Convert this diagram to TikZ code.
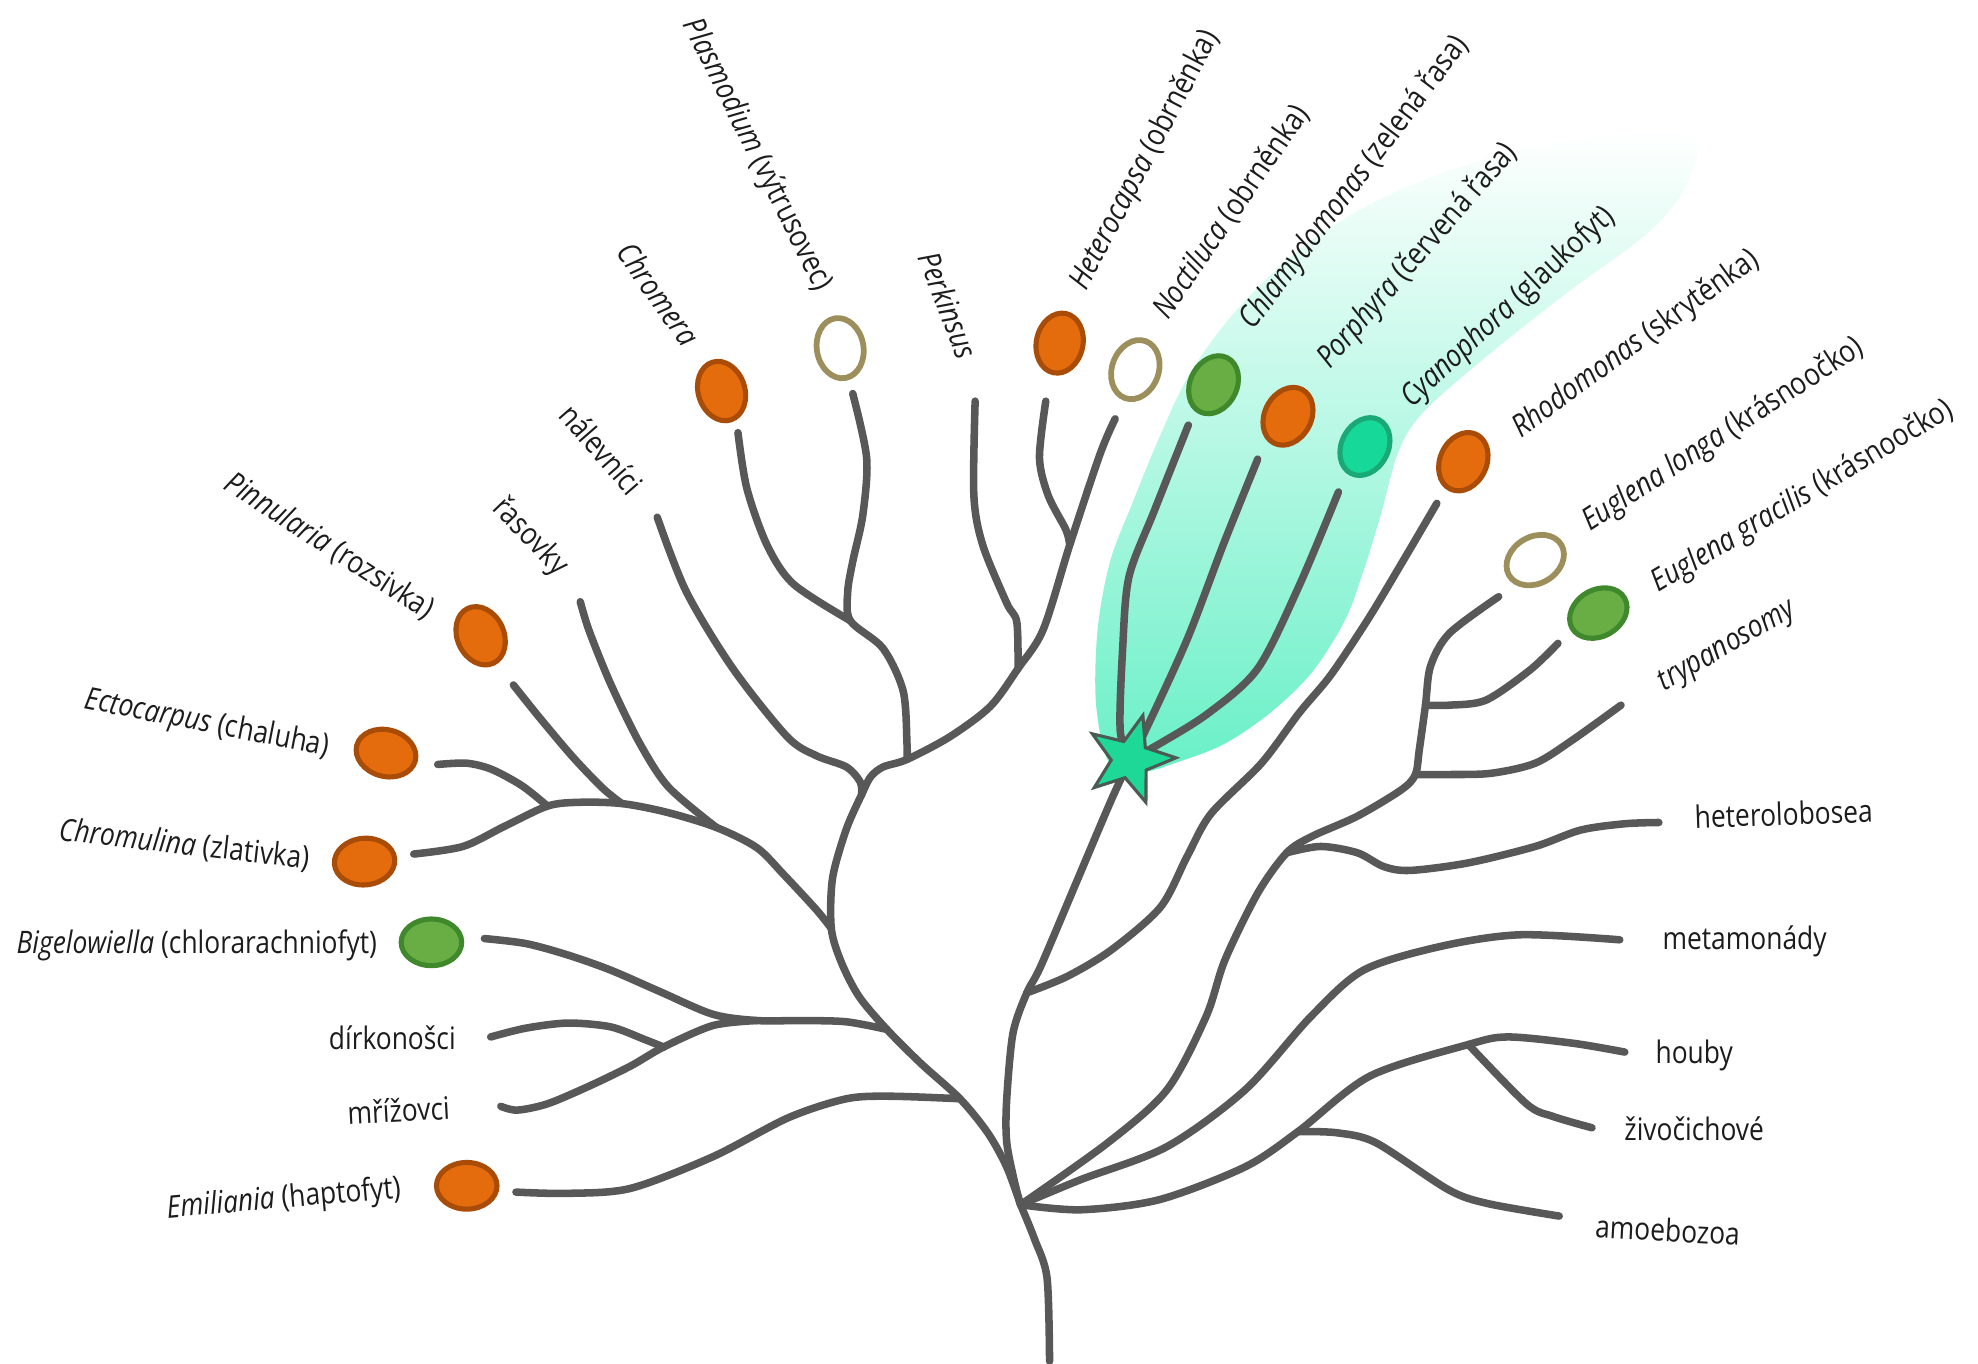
\documentclass[tikz,border=0pt]{standalone}
\usepackage{fontspec}
\setmainfont{Open Sans}[FakeStretch=0.85]
\usetikzlibrary{shapes.geometric}

\definecolor{branchgray}{RGB}{88,88,88}
\definecolor{orangefill}{RGB}{229,108,12}
\definecolor{orangeedge}{RGB}{168,76,8}
\definecolor{greenfill}{RGB}{104,174,68}
\definecolor{greenedge}{RGB}{64,136,44}
\definecolor{tealfill}{RGB}{22,216,152}
\definecolor{tealedge}{RGB}{26,168,118}
\definecolor{khaki}{RGB}{156,143,92}
\definecolor{starfill}{RGB}{30,216,152}
\definecolor{staredge}{RGB}{76,90,84}
\definecolor{glowbottom}{RGB}{104,240,198}
\definecolor{labelink}{RGB}{28,28,28}

\tikzset{
	branch/.style={draw=branchgray, line width=3.4pt, line cap=round, line join=round},
	cell/.style={ellipse, inner sep=0pt, minimum width=0.96cm, minimum height=0.74cm, line width=2.3pt},
	orangecell/.style={cell, draw=orangeedge, fill=orangefill},
	greencell/.style={cell, draw=greenedge, fill=greenfill},
	tealcell/.style={cell, draw=tealedge, fill=tealfill},
	emptycell/.style={cell, draw=khaki, fill=white, line width=2.6pt},
	lbl/.style={inner sep=0pt, text=labelink, font=\fontsize{14}{16}\selectfont}
}

\begin{document}
\begin{tikzpicture}[x=0.02cm, y=-0.02cm]
	\useasboundingbox (0,0) rectangle (1568,1081);
	% plastid glow
	\shade[top color=white, bottom color=glowbottom] plot[smooth cycle, tension=0.55] coordinates {(880,606) (869,560) (870,500) (880,445) (898,398) (918,349) (941,300) (970,258) (1003,222) (1040,190) (1090,160) (1150,135) (1220,115) (1300,105) (1345,110) (1335,150) (1306,185) (1245,230) (1184,278) (1130,325) (1109,357) (1094,410) (1080,455) (1066,492) (1040,533) (1007,565) (970,590) (931,605) (905,612)};
	% junctions
	\coordinate (base) at (832,1079);
	\coordinate (root) at (809,955);
	\coordinate (jEmi) at (761,871);
	\coordinate (jBig) at (703,816);
	\coordinate (jRiz) at (600,809);
	\coordinate (jDir) at (526,830);
	\coordinate (jChr) at (659,736);
	\coordinate (jRas) at (568,656);
	\coordinate (jPin) at (493,637);
	\coordinate (jEct) at (434,639);
	\coordinate (jTop) at (683,630);
	\coordinate (jPla) at (719,602);
	\coordinate (jCmr) at (674,492);
	\coordinate (jPer) at (807,530);
	\coordinate (jHet) at (848,432);
	\coordinate (jRho) at (814,787);
	\coordinate (jHlb) at (1020,676);
	\coordinate (jTry) at (1122,614);
	\coordinate (jEug) at (1130,559);
	\coordinate (jAmo) at (1029,897);
	\coordinate (jZiv) at (1164,828);
	% branch tips
	\coordinate (pinT) at (407,543);
	\coordinate (ectT) at (347,606);
	\coordinate (chrT) at (328,677);
	\coordinate (bigT) at (384,744);
	\coordinate (dirT) at (389,822);
	\coordinate (mriT) at (397,877);
	\coordinate (emiT) at (409,945);
	\coordinate (rasT) at (460,477);
	\coordinate (nalT) at (521,410);
	\coordinate (cmrT) at (585,343);
	\coordinate (plaT) at (676,312);
	\coordinate (perT) at (773,318);
	\coordinate (hetT) at (829,318);
	\coordinate (nocT) at (884,332);
	\coordinate (chlT) at (942,337);
	\coordinate (porT) at (997,364);
	\coordinate (cyaT) at (1061,390);
	\coordinate (rhoT) at (1139,399);
	\coordinate (eulT) at (1188,473);
	\coordinate (eugT) at (1235,510);
	\coordinate (tryT) at (1285,559);
	\coordinate (hlbT) at (1315,652);
	\coordinate (metT) at (1284,745);
	\coordinate (houT) at (1288,834);
	\coordinate (zivT) at (1262,894);
	\coordinate (amoT) at (1236,964);
	\coordinate (starC) at (896,602);
	% left half
	\draw[branch] plot[smooth, tension=0.5] coordinates {(base) (830,1013) (820,982) (root)};
	\draw[branch] plot[smooth, tension=0.5] coordinates {(root) (798,925) (783,898) (jEmi) (730,843) (jBig) (681,790) (667,763) (jChr) (660,696) (671,657) (jTop)};
	\draw[branch] plot[smooth, tension=0.5] coordinates {(jEmi) (706,869) (671,871) (625,886) (565,917) (500,942) (450,946) (emiT)};
	\draw[branch] plot[smooth, tension=0.5] coordinates {(jBig) (671,810) (636,809) (jRiz) (565,804) (523,786) (484,769) (450,757) (417,748) (bigT)};
	\draw[branch] plot[smooth, tension=0.5] coordinates {(jRiz) (565,813) (jDir) (500,845) (467,861) (434,875) (410,880) (mriT)};
	\draw[branch] plot[smooth, tension=0.5] coordinates {(jDir) (511,824) (484,814) (450,811) (417,815) (dirT)};
	\draw[branch] plot[smooth, tension=0.5] coordinates {(jChr) (647,721) (621,693) (600,672) (jRas) (529,644) (jPin) (459,636) (jEct) (400,655) (367,671) (chrT)};
	\draw[branch] plot[smooth, tension=0.5] coordinates {(jRas) (530,624) (507,589) (484,542) (467,500) (rasT)};
	\draw[branch] plot[smooth, tension=0.5] coordinates {(jPin) (478,625) (454,600) (427,568) (pinT)};
	\draw[branch] plot[smooth, tension=0.5] coordinates {(jEct) (414,623) (390,610) (370,605) (ectT)};
	\draw[branch] plot[smooth, tension=0.5] coordinates {(jTop) (682,620) (671,608) (647,599) (624,584) (581,530) (544,469) (nalT)};
	\draw[branch] plot[smooth, tension=0.5] coordinates {(jTop) (690,616) (700,608) (jPla) (753,584) (785,560) (jPer) (827,499) (jHet) (872,360) (nocT)};
	\draw[branch] plot[smooth, tension=0.5] coordinates {(jPla) (719,590) (716,548) (700,514) (jCmr) (672,469) (676,445) (684,408) (687,363) (plaT)};
	\draw[branch] plot[smooth, tension=0.5] coordinates {(jCmr) (629,463) (608,432) (592,387) (cmrT)};
	\draw[branch] plot[smooth, tension=0.5] coordinates {(jPer) (806,493) (798,478) (779,432) (772,393) (perT)};
	\draw[branch] plot[smooth, tension=0.5] coordinates {(jHet) (845,420) (831,393) (824,363) (hetT)};
	% right half
	\draw[branch] plot[smooth, tension=0.5] coordinates {(root) (804,936) (798,905) (798,872) (803,819) (jRho) (825,766) (853,700) (881,634) (starC)};
	\draw[branch] plot[smooth, tension=0.5] coordinates {(starC) (888,579) (890,513) (895,457) (915,405) (chlT)};
	\draw[branch] plot[smooth, tension=0.5] coordinates {(starC) (908,579) (941,507) (970,431) (porT)};
	\draw[branch] plot[smooth, tension=0.5] coordinates {(starC) (915,592) (957,566) (997,530) (1030,464) (cyaT)};
	\draw[branch] plot[smooth, tension=0.5] coordinates {(jRho) (846,774) (881,753) (920,719) (941,679) (960,645) (1000,605) (1030,565) (1055,535) (1085,490) (1112,445) (rhoT)};
	\draw[branch] plot[smooth, tension=0.5] coordinates {(root) (878,906) (925,864) (956,806) (971,761) (997,708) (jHlb) (1040,663) (1076,647) (1111,626) (jTry) (1125,595) (jEug) (1134,528) (1149,502) (eulT)};
	\draw[branch] plot[smooth, tension=0.5] coordinates {(jHlb) (1047,671) (1076,676) (1097,687) (1118,690) (1164,684) (1217,671) (1253,658) (1288,653) (hlbT)};
	\draw[branch] plot[smooth, tension=0.5] coordinates {(jTry) (1147,614) (1182,613) (1217,605) (1246,587) (tryT)};
	\draw[branch] plot[smooth, tension=0.5] coordinates {(jEug) (1149,559) (1178,555) (1213,531) (eugT)};
	\draw[branch] plot[smooth, tension=0.5] coordinates {(root) (857,935) (925,909) (987,864) (1039,806) (1081,769) (1143,750) (1205,741) (metT)};
	\draw[branch] plot[smooth, tension=0.5] coordinates {(root) (857,959) (919,951) (987,925) (jAmo) (1086,853) (jZiv) (1195,822) (1247,827) (houT)};
	\draw[branch] plot[smooth, tension=0.5] coordinates {(jZiv) (1210,875) (1231,885) (zivT)};
	\draw[branch] plot[smooth, tension=0.5] coordinates {(jAmo) (1060,898) (1091,906) (1148,943) (1179,954) (amoT)};
	% plastids
	\node[orangecell, rotate=115] (pin) at (381,504) {};
	\node[orangecell, rotate=-15] (ect) at (306,597) {};
	\node[orangecell, rotate=5] (chr) at (289,683) {};
	\node[greencell] (big) at (342,747) {};
	\node[orangecell] (emi) at (370,940) {};
	\node[orangecell, rotate=108] (cmr) at (572,310) {};
	\node[emptycell, rotate=100] (pla) at (666,276) {};
	\node[orangecell, rotate=78] (het) at (840,272) {};
	\node[emptycell, rotate=70] (noc) at (900,293) {};
	\node[greencell, rotate=63] (chl) at (962,305) {};
	\node[orangecell, rotate=62] (por) at (1021,330) {};
	\node[tealcell, rotate=62] (cya) at (1082,354) {};
	\node[orangecell, rotate=65] (rho) at (1160,366) {};
	\node[emptycell, rotate=30] (eul) at (1217,444) {};
	\node[greencell, rotate=30] (eug) at (1267,486) {};
	\node[star, star points=5, star point ratio=2.4, minimum size=1.45cm, inner sep=0pt, rotate=-88, fill=starfill, draw=staredge, line width=1.4pt] (star) at (starC) {};
	% labels
	\node[lbl, rotate=-33] (pinL) at (261,433) {\textit{Pinnularia} (rozsivka)};
	\node[lbl, rotate=-11] (ectL) at (164,574) {\textit{Ectocarpus} (chaluha)};
	\node[lbl, rotate=-6.5] (chrL) at (146,670) {\textit{Chromulina} (zlativka)};
	\node[lbl] (bigL) at (156,749) {\textit{Bigelowiella} (chlorarachniofyt)};
	\node[lbl] (dirL) at (311,823) {dírkonošci};
	\node[lbl, rotate=3] (mriL) at (316,880) {mřížovci};
	\node[lbl, rotate=5] (emiL) at (225,951) {\textit{Emiliania} (haptofyt)};
	\node[lbl, rotate=-46] (rasL) at (420,426) {řasovky};
	\node[lbl, rotate=-49] (nalL) at (477,356) {nálevníci};
	\node[lbl, rotate=-55] (cmrL) at (522,233) {\textit{Chromera}};
	\node[lbl, rotate=-63.5] (plaL) at (600,123) {\textit{Plasmodium} (výtrusovec)};
	\node[lbl, rotate=-69] (perL) at (752,242) {\textit{Perkinsus}};
	\node[lbl, rotate=62.5] (hetL) at (908,127) {\textit{Heterocapsa} (obrněnka)};
	\node[lbl, rotate=55.5] (nocL) at (976,168) {\textit{Noctiluca} (obrněnka)};
	\node[lbl, rotate=53] (chlL) at (1074,145) {\textit{Chlamydomonas} (zelená řasa)};
	\node[lbl, rotate=49] (porL) at (1124,203) {\textit{Porphyra} (červená řasa)};
	\node[lbl, rotate=43] (cyaL) at (1196,244) {\textit{Cyanophora} (glaukofyt)};
	\node[lbl, rotate=36] (rhoL) at (1297,273) {\textit{Rhodomonas} (skrytěnka)};
	\node[lbl, rotate=33] (eulL) at (1366,345) {\textit{Euglena longa} (krásnoočko)};
	\node[lbl, rotate=31] (eugL) at (1429,394) {\textit{Euglena gracilis} (krásnoočko)};
	\node[lbl, rotate=30] (tryL) at (1370,513) {\textit{trypanosomy}};
	\node[lbl, rotate=2] (hlbL) at (1414,645) {heterolobosea};
	\node[lbl] (metL) at (1383,746) {metamonády};
	\node[lbl] (houL) at (1343,837) {houby};
	\node[lbl] (zivL) at (1343,895) {živočichové};
	\node[lbl, rotate=-3] (amoL) at (1322,975) {amoebozoa};
\end{tikzpicture}
\end{document}
